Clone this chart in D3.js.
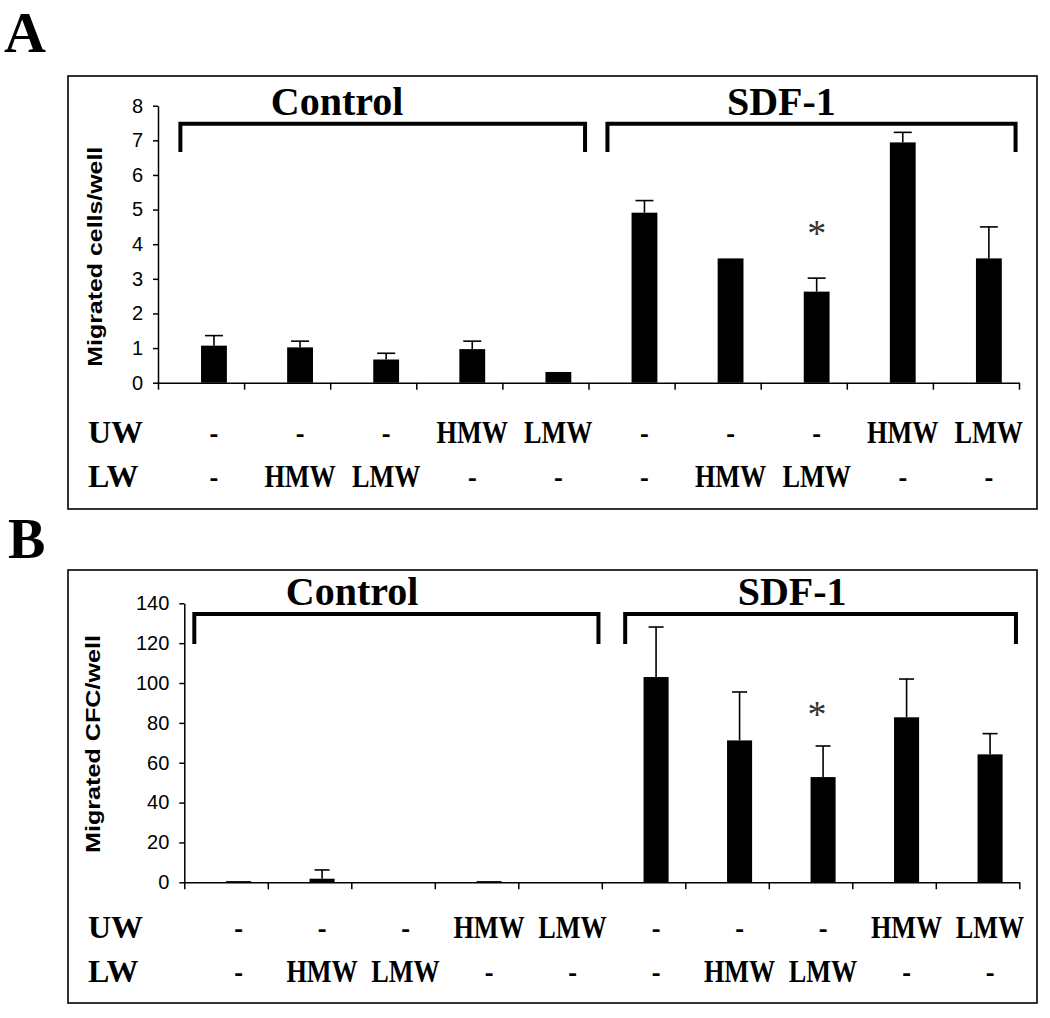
<!DOCTYPE html>
<html>
<head>
<meta charset="utf-8">
<script src="https://cdn.jsdelivr.net/npm/d3@7"></script>
<style>
  html, body { margin: 0; padding: 0; background: #fff; }
  svg { display: block; }
</style>
</head>
<body>
<svg id="chart" width="1050" height="1018"></svg>
<script>
// ---------------- DATA ----------------
const categories = ["c1","c2","c3","c4","c5","c6","c7","c8","c9","c10"];
const uwLabels = ["-","-","-","HMW","LMW","-","-","-","HMW","LMW"];
const lwLabels = ["-","HMW","LMW","-","-","-","HMW","LMW","-","-"];
const groupNames = ["Control","SDF-1"];
const groupStarts = [0, 5];
const groupEnds = [4, 9];

// Panel A: migrated cells/well
const cellsValues = [1.07, 1.02, 0.67, 0.97, 0.31, 4.91, 3.59, 2.63, 6.94, 3.59];
const cellsErrors = [0.29, 0.18, 0.18, 0.23, 0, 0.35, 0, 0.39, 0.29, 0.91];
const cellsTicks = [0,1,2,3,4,5,6,7,8];
const cellsTitle = "Migrated cells/well";

// Panel B: migrated CFC/well
const cfcValues = [0.6, 1.8, 0, 0.6, 0, 103.0, 71.2, 52.8, 82.8, 64.2];
const cfcErrors = [0, 4.4, 0, 0, 0, 25.1, 24.3, 15.6, 19.2, 10.4];
const cfcTicks = [0,20,40,60,80,100,120,140];
const cfcTitle = "Migrated CFC/well";

const significantIndex = 7; // "*" over this bar

// ---------------- DRAW ----------------
const svg = d3.select("#chart");
const SERIF = "'Liberation Serif','Times New Roman',serif";
const SANS = "'Liberation Sans',Arial,sans-serif";

function drawPanel(cfg) {
  const g = svg.append("g");

  // panel letter
  g.append("text").attr("x", cfg.letterX).attr("y", cfg.letterY)
    .attr("font-family", SERIF).attr("font-weight", "bold")
    .attr("font-size", cfg.letterSize).text(cfg.letter);

  // frame
  g.append("rect").attr("x", cfg.box[0]).attr("y", cfg.box[1])
    .attr("width", cfg.box[2] - cfg.box[0]).attr("height", cfg.box[3] - cfg.box[1])
    .attr("fill", "none").attr("stroke", "#000").attr("stroke-width", 1.6);

  const x = d3.scaleBand().domain(categories).range([cfg.x0, cfg.x1]).paddingInner(0).paddingOuter(0);
  const inner = d3.scaleBand().domain(["blank", "value"]).range([0, x.bandwidth()])
    .paddingInner(0).paddingOuter(0.6667);
  const xBound = d3.scaleLinear().domain([0, categories.length]).range([cfg.x0, cfg.x1]);
  const y = d3.scaleLinear().domain([0, d3.max(cfg.ticks)]).range([cfg.yBase, cfg.yTop]);

  const barX = c => x(c) + inner("value");
  const barC = c => x(c) + inner("value") + inner.bandwidth() / 2;

  // bars
  g.selectAll("rect.bar").data(categories).join("rect")
    .attr("class", "bar")
    .attr("x", c => barX(c))
    .attr("width", inner.bandwidth())
    .attr("y", (c, i) => y(cfg.values[i]))
    .attr("height", (c, i) => cfg.yBase - y(cfg.values[i]))
    .attr("fill", "#000");

  // error bars (upper only)
  const errIdx = categories.map((c, i) => i).filter(i => cfg.errors[i] > 0);
  const eg = g.append("g").attr("stroke", "#000").attr("stroke-width", 1.6);
  eg.selectAll("line.ev").data(errIdx).join("line")
    .attr("x1", i => barC(categories[i])).attr("x2", i => barC(categories[i]))
    .attr("y1", i => y(cfg.values[i])).attr("y2", i => y(cfg.values[i] + cfg.errors[i]));
  eg.selectAll("line.ec").data(errIdx).join("line")
    .attr("x1", i => barC(categories[i]) - cfg.cap / 2).attr("x2", i => barC(categories[i]) + cfg.cap / 2)
    .attr("y1", i => y(cfg.values[i] + cfg.errors[i])).attr("y2", i => y(cfg.values[i] + cfg.errors[i]));

  // y axis
  const yAxis = d3.axisLeft(y).tickValues(cfg.ticks).tickSize(5).tickSizeOuter(0).tickPadding(10);
  const ya = g.append("g").attr("transform", `translate(${cfg.x0},0)`).call(yAxis);
  ya.selectAll("text").attr("font-family", SANS).attr("font-size", 20).attr("fill", "#000");
  ya.selectAll("path,line").attr("stroke", "#000").attr("stroke-width", 1.5);

  // x axis (ticks at category boundaries)
  const xAxis = d3.axisBottom(xBound).tickValues(d3.range(categories.length + 1))
    .tickSize(7).tickSizeOuter(0).tickFormat("");
  const xa = g.append("g").attr("transform", `translate(0,${cfg.yBase})`).call(xAxis);
  xa.selectAll("path,line").attr("stroke", "#000").attr("stroke-width", 1.5);

  // y title
  g.append("text")
    .attr("transform", `translate(${cfg.titleX},${cfg.titleY}) rotate(-90)`)
    .attr("text-anchor", "middle").attr("dominant-baseline", "central")
    .attr("font-family", SANS).attr("font-weight", "bold").attr("font-size", cfg.titleSize)
    .attr("textLength", cfg.titleLen).attr("lengthAdjust", "spacingAndGlyphs")
    .text(cfg.title);

  // group brackets and labels
  groupNames.forEach((name, k) => {
    const left = xBound(groupStarts[k]) + cfg.bracketInset[k] * x.step();
    const right = xBound(groupEnds[k] + 1) - 0.04 * x.step();
    g.append("path")
      .attr("d", `M${left},${cfg.bracketBottom}V${cfg.bracketTop}H${right}V${cfg.bracketBottom}`)
      .attr("fill", "none").attr("stroke", "#000").attr("stroke-width", 4);
    g.append("text")
      .attr("x", xBound(groupStarts[k]) + cfg.labelPos[k] * x.step())
      .attr("y", cfg.groupLabelY)
      .attr("text-anchor", "middle")
      .attr("font-family", SERIF).attr("font-weight", "bold").attr("font-size", 40)
      .text(name);
  });

  // significance asterisk
  const si = significantIndex;
  g.append("text")
    .attr("x", barC(categories[si]) + cfg.starDx)
    .attr("y", y(cfg.values[si] + cfg.errors[si]) - cfg.starGap)
    .attr("text-anchor", "middle")
    .attr("font-family", SERIF).attr("font-size", 38).attr("fill", "#333")
    .text("*");

  // treatment rows
  [["UW", uwLabels, cfg.uwY], ["LW", lwLabels, cfg.lwY]].forEach(([lab, arr, yy]) => {
    g.append("text").attr("x", 88).attr("y", yy)
      .attr("font-family", SERIF).attr("font-weight", "bold").attr("font-size", 32)
      .text(lab);
    g.selectAll(null).data(categories).join("text")
      .attr("transform", c => `translate(${barC(c)},${yy}) scale(0.82,1)`)
      .attr("text-anchor", "middle")
      .attr("font-family", SERIF).attr("font-weight", "bold").attr("font-size", 32)
      .text((c, i) => arr[i]);
  });
}

drawPanel({
  letter: "A", letterX: 4, letterY: 52, letterSize: 58,
  box: [68, 76, 1037, 509],
  x0: 158, x1: 1019, yBase: 382.7, yTop: 105.7,
  values: cellsValues, errors: cellsErrors, ticks: cellsTicks,
  title: cellsTitle, titleX: 94.5, titleY: 256.7, titleSize: 21, titleLen: 220,
  cap: 18,
  bracketTop: 123.7, bracketBottom: 152, bracketInset: [0.26, 0.22],
  labelPos: [2.08, 2.24], groupLabelY: 115,
  starDx: 0, starGap: 32,
  uwY: 443, lwY: 487
});

drawPanel({
  letter: "B", letterX: 8, letterY: 558, letterSize: 56,
  box: [68, 570, 1037, 1003],
  x0: 184.3, x1: 1019.3, yBase: 882.3, yTop: 603.3,
  values: cfcValues, errors: cfcErrors, ticks: cfcTicks,
  title: cfcTitle, titleX: 93, titleY: 744, titleSize: 20, titleLen: 218,
  cap: 15,
  bracketTop: 614, bracketBottom: 644, bracketInset: [0.12, 0.28],
  labelPos: [2.01, 2.28], groupLabelY: 604.5,
  starDx: -6, starGap: 19,
  uwY: 938, lwY: 982
});
</script>
</body>
</html>
